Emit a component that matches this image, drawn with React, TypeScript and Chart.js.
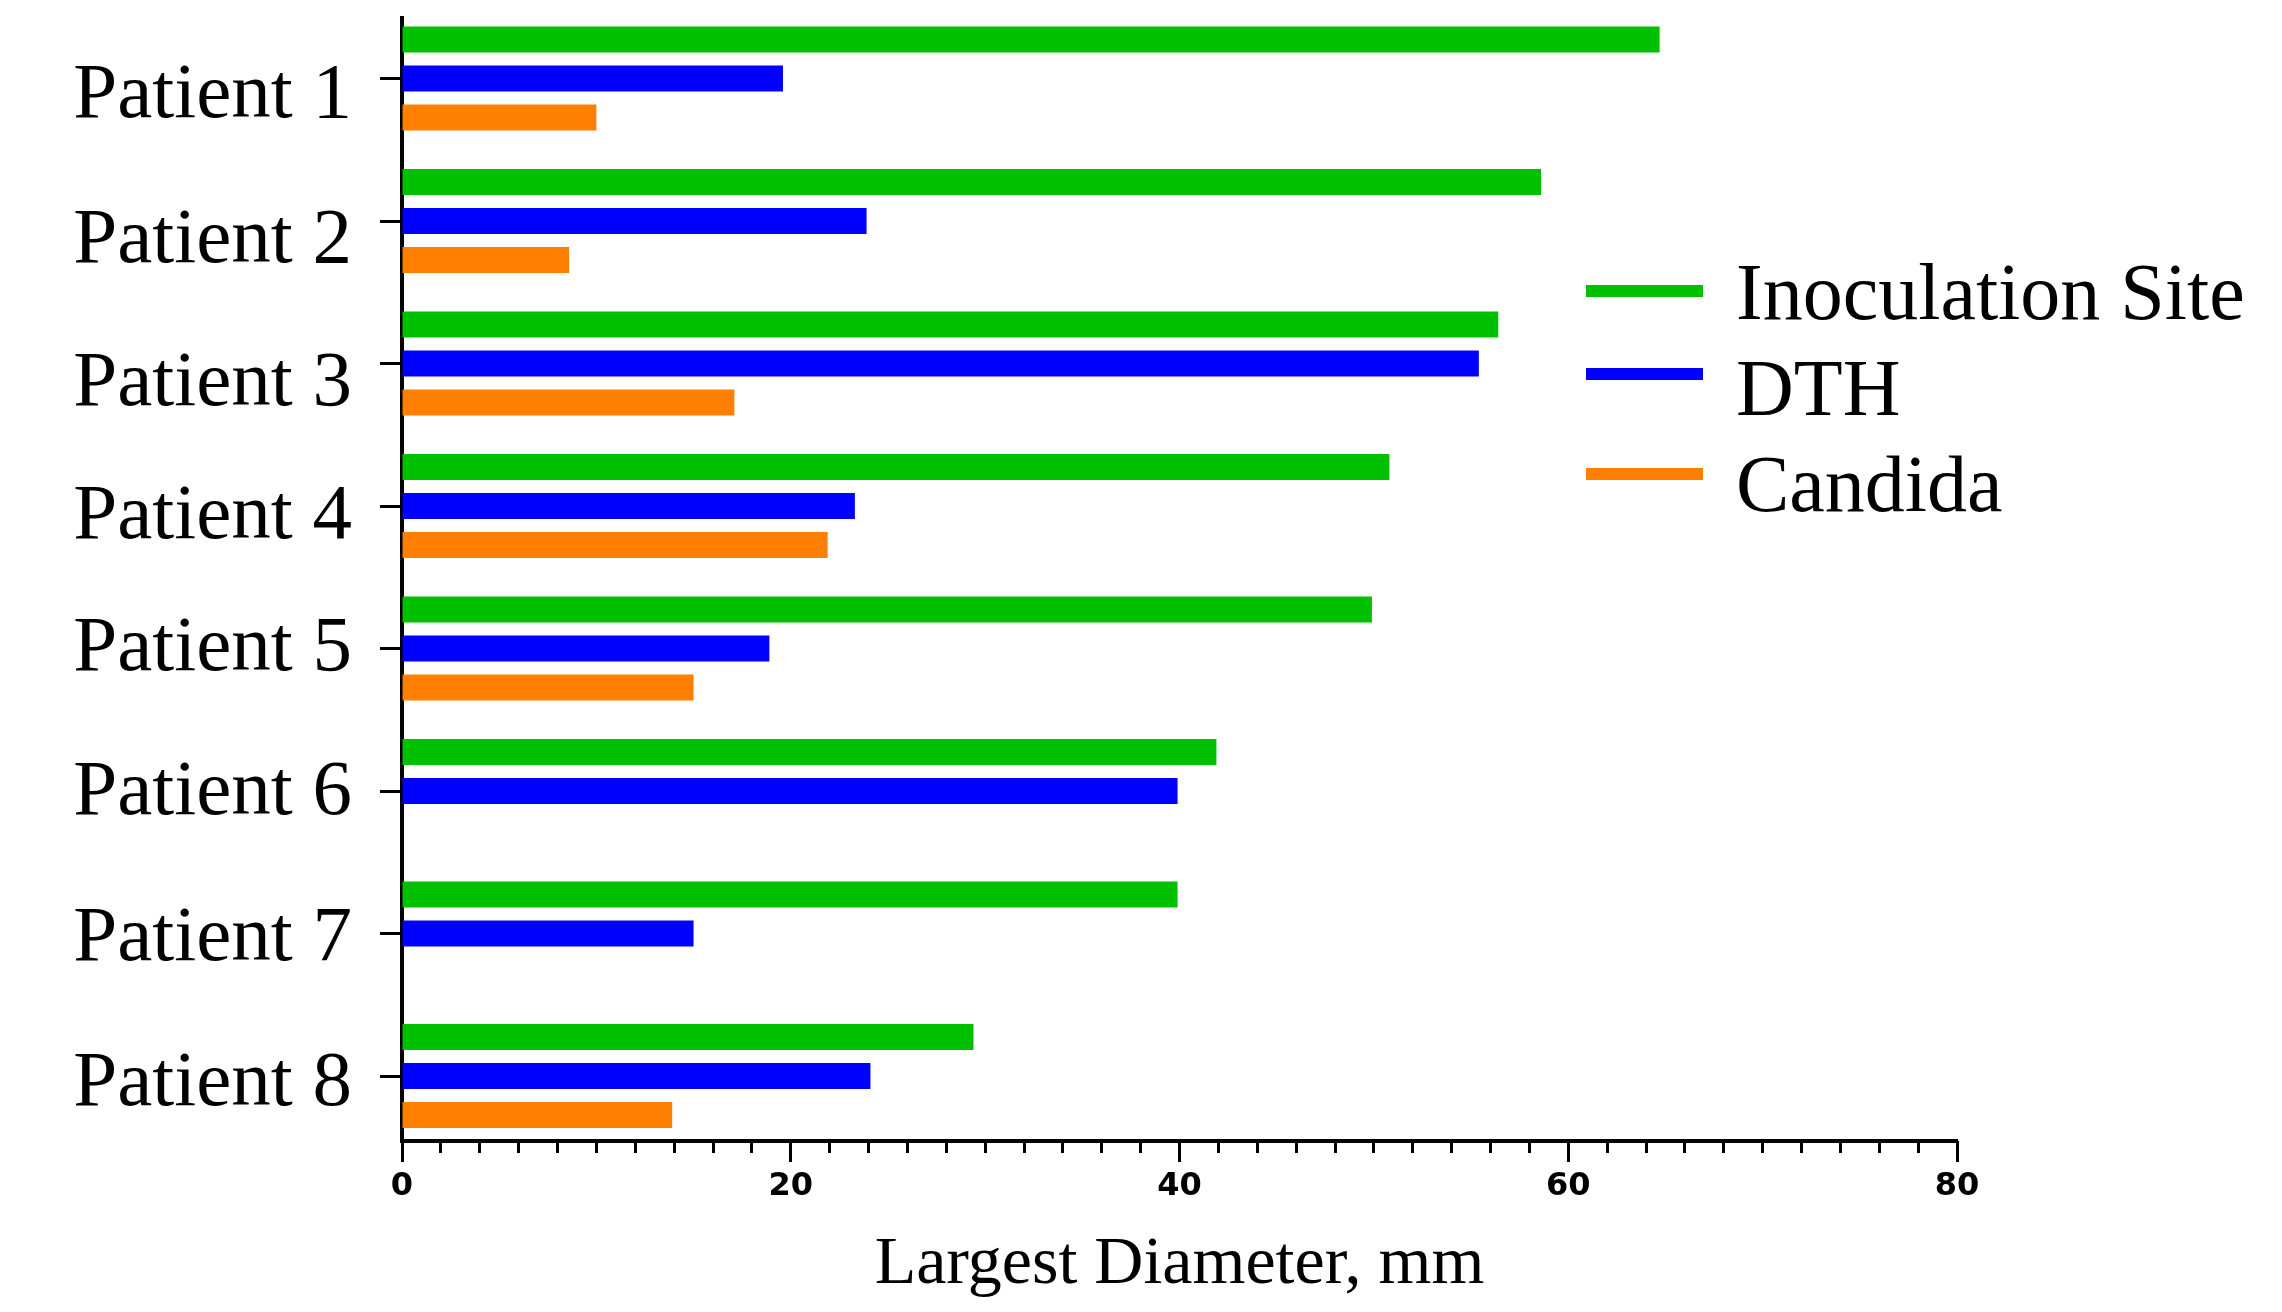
import React, { useEffect, useRef } from "react";
import { Chart, registerables } from "chart.js";

Chart.register(...registerables);

const categories = [
  "Patient 1",
  "Patient 2",
  "Patient 3",
  "Patient 4",
  "Patient 5",
  "Patient 6",
  "Patient 7",
  "Patient 8",
];
const seriesNames = ["Inoculation Site", "DTH", "Candida"];
const inoculationSite = [64.7, 58.6, 56.4, 50.8, 49.9, 41.9, 39.9, 29.4];
const dth = [19.6, 23.9, 55.4, 23.3, 18.9, 39.9, 15.0, 24.1];
const candida = [10.0, 8.6, 17.1, 21.9, 15.0, null, null, 13.9];
const xTickValues = [0, 20, 40, 60, 80];
const xTitle = "Largest Diameter, mm";

const COLORS = ["#00c000", "#0000ff", "#ff8000"];
const SERIF = "'Liberation Serif', 'Times New Roman', serif";
// vertical nudge (px) of each category label below its tick, as in the original figure
const LABEL_NUDGE = [18, 20, 21, 11, 1, 2, 6, 8];

const legendPlugin = {
  id: "insideLegend",
  afterDraw(chart: any) {
    const ctx = chart.ctx;
    const lineY = [291, 374, 474];
    const textY = [295, 391, 487];
    ctx.save();
    chart.data.datasets.forEach((ds: any, i: number) => {
      ctx.fillStyle = ds.backgroundColor;
      ctx.fillRect(1586, lineY[i] - 6, 117, 12);
      ctx.fillStyle = "#000";
      ctx.font = `80px ${SERIF}`;
      ctx.textAlign = "left";
      ctx.textBaseline = "middle";
      ctx.fillText(ds.label, 1736, textY[i] + 3);
    });
    ctx.restore();
  },
};

export default function App() {
  const ref = useRef<HTMLCanvasElement>(null);

  useEffect(() => {
    document.body.style.margin = "0";
    const canvas = ref.current!;
    const zeroPad = (s: any) => {
      s.paddingTop = 0;
      s.paddingBottom = 0;
      s.paddingLeft = 0;
      s.paddingRight = 0;
    };
    const chart = new Chart(canvas, {
      type: "bar",
      data: {
        labels: categories.map((_, i) => i),
        datasets: [inoculationSite, dth, candida].map((d, i) => ({
          label: seriesNames[i],
          data: d as any,
          backgroundColor: COLORS[i],
          borderWidth: 0,
          xAxisID: "x",
          yAxisID: "y",
          barPercentage: 0.667,
          categoryPercentage: 0.82,
        })),
      },
      options: {
        indexAxis: "y",
        responsive: false,
        animation: false,
        devicePixelRatio: 1,
        layout: { padding: { top: 18, right: 325, left: 0, bottom: 0 } },
        plugins: {
          legend: { display: false },
          tooltip: { enabled: false },
          title: { display: false },
        },
        scales: {
          y: {
            type: "linear",
            reverse: true,
            offset: false,
            min: -0.425,
            max: 7.456,
            afterBuildTicks: (s: any) => {
              s.ticks = categories.map((_, i) => ({ value: i }));
            },
            afterFit: (s: any) => {
              s.width = 402;
              zeroPad(s);
            },
            border: { display: true, color: "#000", width: 4 },
            grid: {
              offset: false,
              drawOnChartArea: false,
              drawTicks: true,
              tickLength: 22,
              tickWidth: 3,
              tickColor: "#000",
            },
            ticks: {
              padding: 28,
              color: "#000",
              font: (c: any) => ({
                family: SERIF,
                size: 79,
                lineHeight: `${2 * (LABEL_NUDGE[c.index] ?? 0)}px`,
              }),
              callback: (v: any) => ["", categories[v as number]],
            },
          },
          x2: {
            type: "linear",
            position: "bottom",
            weight: 0,
            min: 0,
            max: 80,
            afterFit: (s: any) => {
              s.height = 0;
              zeroPad(s);
            },
            border: { display: false },
            grid: {
              drawOnChartArea: false,
              drawTicks: true,
              tickLength: 12,
              tickWidth: 3,
              tickColor: "#000",
            },
            ticks: { display: false, stepSize: 2 },
          },
          x: {
            type: "linear",
            position: "bottom",
            weight: 1,
            min: 0,
            max: 80,
            afterBuildTicks: (s: any) => {
              s.ticks = xTickValues.map((v) => ({ value: v }));
            },
            afterFit: (s: any) => {
              s.height = 171;
              zeroPad(s);
            },
            border: { display: true, color: "#000", width: 4 },
            grid: {
              drawOnChartArea: false,
              drawTicks: true,
              tickLength: 21,
              tickWidth: 3,
              tickColor: "#000",
            },
            ticks: {
              padding: 5,
              color: "#000",
              maxRotation: 0,
              font: { family: "'DejaVu Sans', sans-serif", size: 32, weight: "bold" },
            },
            title: {
              display: true,
              text: xTitle,
              color: "#000",
              font: { family: SERIF, size: 68 },
              padding: { top: 0, bottom: 6 },
            },
          },
        },
      },
      plugins: [legendPlugin],
    });
    return () => chart.destroy();
  }, []);

  return (
    <div style={{ width: 2282, height: 1312 }}>
      <canvas ref={ref} width={2282} height={1312} style={{ display: "block" }} />
    </div>
  );
}
